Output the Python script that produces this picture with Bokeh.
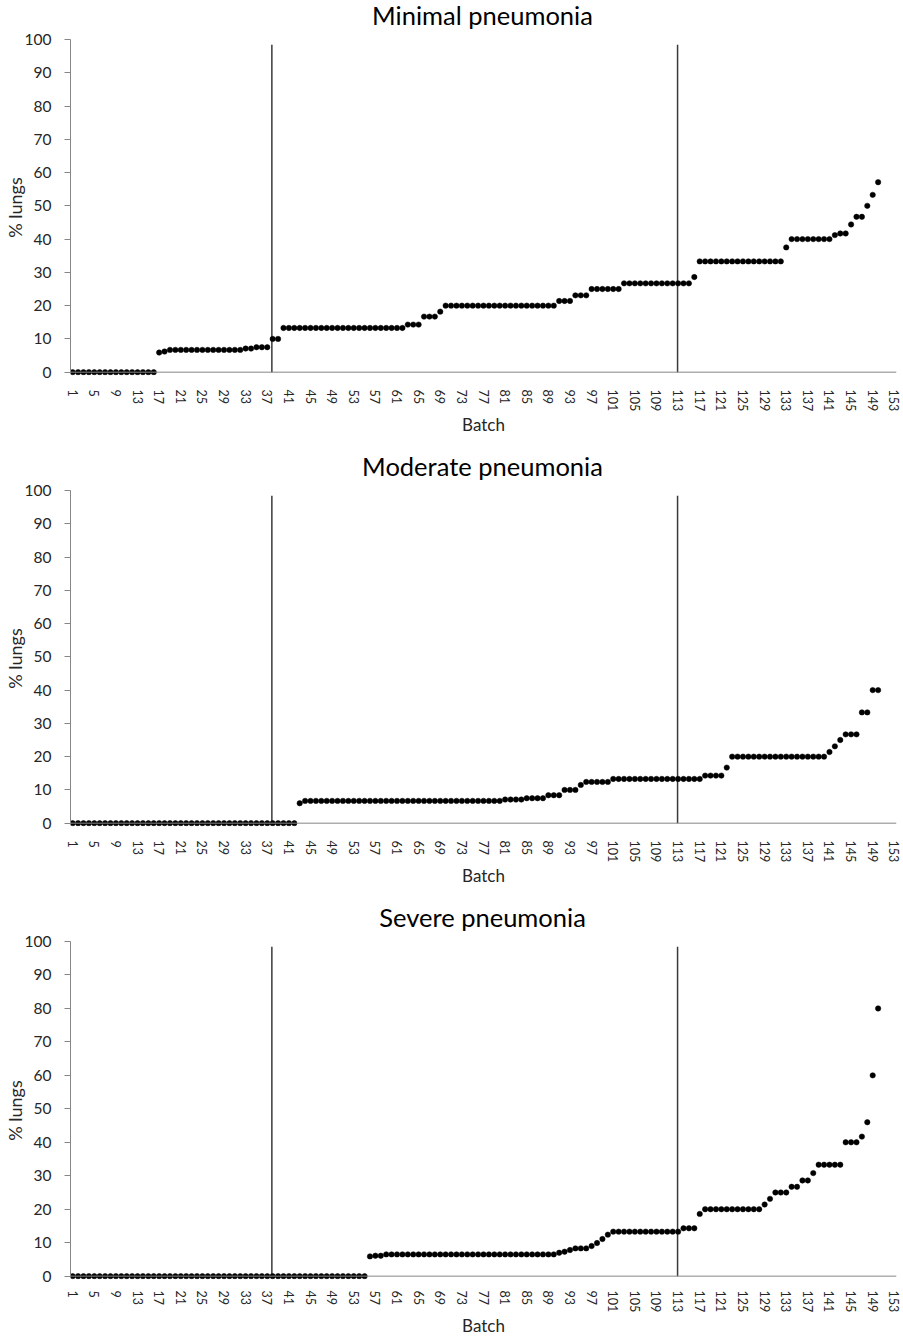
from bokeh.plotting import figure
from bokeh.models import Range1d, FixedTicker, Span, Div
from bokeh.layouts import column
from bokeh.embed import file_html
from bokeh.resources import INLINE

batch = list(range(1, 151))

minimal = [
    0, 0, 0, 0, 0, 0, 0, 0, 0, 0, 0, 0, 0, 0, 0, 0,
    5.9, 6.2,
    6.7, 6.7, 6.7, 6.7, 6.7, 6.7, 6.7, 6.7, 6.7, 6.7, 6.7, 6.7, 6.7, 6.7,
    7.1, 7.1, 7.5, 7.5, 7.5, 10, 10,
    13.3, 13.3, 13.3, 13.3, 13.3, 13.3, 13.3, 13.3, 13.3, 13.3, 13.3, 13.3,
    13.3, 13.3, 13.3, 13.3, 13.3, 13.3, 13.3, 13.3, 13.3, 13.3, 13.3,
    14.3, 14.3, 14.3, 16.7, 16.7, 16.7, 18.2,
    20, 20, 20, 20, 20, 20, 20, 20, 20, 20, 20, 20, 20, 20, 20, 20, 20, 20,
    20, 20, 20,
    21.4, 21.4, 21.4, 23.1, 23.1, 23.1, 25, 25, 25, 25, 25, 25,
    26.7, 26.7, 26.7, 26.7, 26.7, 26.7, 26.7, 26.7, 26.7, 26.7, 26.7, 26.7,
    26.7, 28.6,
    33.3, 33.3, 33.3, 33.3, 33.3, 33.3, 33.3, 33.3, 33.3, 33.3, 33.3, 33.3,
    33.3, 33.3, 33.3, 33.3,
    37.5, 40, 40, 40, 40, 40, 40, 40, 40,
    41.2, 41.7, 41.7, 44.4, 46.7, 46.7, 50, 53.3, 57.1,
]

moderate = [
    0, 0, 0, 0, 0, 0, 0, 0, 0, 0, 0, 0, 0, 0, 0, 0, 0, 0, 0, 0, 0,
    0, 0, 0, 0, 0, 0, 0, 0, 0, 0, 0, 0, 0, 0, 0, 0, 0, 0, 0, 0, 0,
    6.0,
    6.7, 6.7, 6.7, 6.7, 6.7, 6.7, 6.7, 6.7, 6.7, 6.7, 6.7, 6.7, 6.7, 6.7,
    6.7, 6.7, 6.7, 6.7, 6.7, 6.7, 6.7, 6.7, 6.7, 6.7, 6.7, 6.7, 6.7, 6.7,
    6.7, 6.7, 6.7, 6.7, 6.7, 6.7, 6.7, 6.7, 6.7,
    7.1, 7.1, 7.1, 7.1, 7.5, 7.5, 7.5, 7.5, 8.4, 8.4, 8.4, 10, 10, 10,
    11.5, 12.4, 12.4, 12.4, 12.4, 12.4,
    13.3, 13.3, 13.3, 13.3, 13.3, 13.3, 13.3, 13.3, 13.3, 13.3, 13.3, 13.3,
    13.3, 13.3, 13.3, 13.3, 13.3,
    14.3, 14.3, 14.3, 14.3, 16.7,
    20, 20, 20, 20, 20, 20, 20, 20, 20, 20, 20, 20, 20, 20, 20, 20, 20, 20,
    21.4, 23.1, 25, 26.7, 26.7, 26.7, 33.3, 33.3, 40, 40,
]

severe = [
    0, 0, 0, 0, 0, 0, 0, 0, 0, 0, 0, 0, 0, 0, 0, 0, 0, 0, 0, 0,
    0, 0, 0, 0, 0, 0, 0, 0, 0, 0, 0, 0, 0, 0, 0, 0, 0, 0, 0, 0,
    0, 0, 0, 0, 0, 0, 0, 0, 0, 0, 0, 0, 0, 0, 0,
    5.9, 6.1, 6.1,
    6.5, 6.5, 6.5, 6.5, 6.5, 6.5, 6.5, 6.5, 6.5, 6.5, 6.5, 6.5, 6.5, 6.5,
    6.5, 6.5, 6.5, 6.5, 6.5, 6.5, 6.5, 6.5, 6.5, 6.5, 6.5, 6.5, 6.5, 6.5,
    6.5, 6.5, 6.5, 6.5,
    7.0, 7.3, 7.8, 8.3, 8.3, 8.3, 9.0, 9.9, 11.1, 12.4,
    13.3, 13.3, 13.3, 13.3, 13.3, 13.3, 13.3, 13.3, 13.3, 13.3, 13.3, 13.3,
    13.3,
    14.3, 14.3, 14.3, 18.6,
    20, 20, 20, 20, 20, 20, 20, 20, 20, 20, 20,
    21.4, 23.1, 25, 25, 25, 26.7, 26.7, 28.6, 28.6, 30.8,
    33.3, 33.3, 33.3, 33.3, 33.3,
    40, 40, 40, 41.7, 46, 60, 80,
]

titles = ["Minimal pneumonia", "Moderate pneumonia", "Severe pneumonia"]
series = [minimal, moderate, severe]
x_ticks = list(range(1, 154, 4))
y_ticks = list(range(0, 101, 10))
divider_batches = [37.85, 112.9]

FONT = "Lato"
AXIS_GRAY = "#868686"
TEXT = "#262626"

TITLE_H = 31
# per-panel layout: (figure height, top border, bottom border, x label standoff)
layouts = [(420, 8, 76, 8), (420, 8, 76, 8), (406, 8, 58, 5)]

items = []
for title, vals, (h, top, bottom, xstand) in zip(titles, series, layouts):
    head = Div(
        text=('<div style="width:827px;margin-left:69px;text-align:center;'
              'font-family:Lato;font-size:25.5px;line-height:30px;'
              'color:#000000;white-space:nowrap;">%s</div>' % title),
        width=900, height=TITLE_H, margin=0)
    items.append(head)

    p = figure(width=900, height=h, output_backend="svg", toolbar_location=None,
               x_range=Range1d(0.6, 153.4), y_range=Range1d(-1.0, 100.0),
               min_border_left=69, min_border_right=4,
               min_border_top=top, min_border_bottom=bottom)
    p.outline_line_color = None
    p.xgrid.visible = False
    p.ygrid.visible = False
    p.background_fill_color = "white"
    p.border_fill_color = "white"

    # axes
    p.xaxis.ticker = FixedTicker(ticks=x_ticks)
    p.xaxis.major_label_orientation = "vertical"
    p.xaxis.axis_line_color = None
    p.xaxis.major_tick_line_color = None
    p.xaxis.minor_tick_line_color = None
    p.xaxis.major_label_standoff = xstand
    p.xaxis.major_label_text_font = FONT
    p.xaxis.major_label_text_font_size = "12.5px"
    p.xaxis.major_label_text_color = TEXT
    p.xaxis.axis_label = "Batch"
    p.xaxis.axis_label_text_font = FONT
    p.xaxis.axis_label_text_font_size = "17px"
    p.xaxis.axis_label_text_font_style = "normal"
    p.xaxis.axis_label_text_color = TEXT
    p.xaxis.axis_label_standoff = 0

    p.yaxis.ticker = FixedTicker(ticks=y_ticks)
    p.yaxis.bounds = (0, 100)
    p.yaxis.axis_line_color = AXIS_GRAY
    p.yaxis.major_tick_line_color = AXIS_GRAY
    p.yaxis.major_tick_out = 6
    p.yaxis.major_tick_in = 0
    p.yaxis.minor_tick_line_color = None
    p.yaxis.major_label_standoff = 13
    p.yaxis.major_label_text_font = FONT
    p.yaxis.major_label_text_font_size = "15.5px"
    p.yaxis.major_label_text_color = TEXT
    p.yaxis.axis_label = "% lungs"
    p.yaxis.axis_label_text_font = FONT
    p.yaxis.axis_label_text_font_size = "18px"
    p.yaxis.axis_label_text_font_style = "normal"
    p.yaxis.axis_label_text_color = TEXT
    p.yaxis.axis_label_standoff = -4

    # baseline at 0
    p.add_layout(Span(location=0, dimension="width", line_color=AXIS_GRAY, line_width=1))

    # dividers
    for xb in divider_batches:
        p.segment(x0=xb, y0=0, x1=xb, y1=98.4, line_color="#3a3a3a", line_width=1.5)

    p.scatter(x=batch, y=vals, size=5.4, marker="circle",
              fill_color="black", line_color="black", line_width=0.5)
    items.append(p)

layout = column(*items, spacing=0)
open("out.html", "w").write(file_html(layout, INLINE))
